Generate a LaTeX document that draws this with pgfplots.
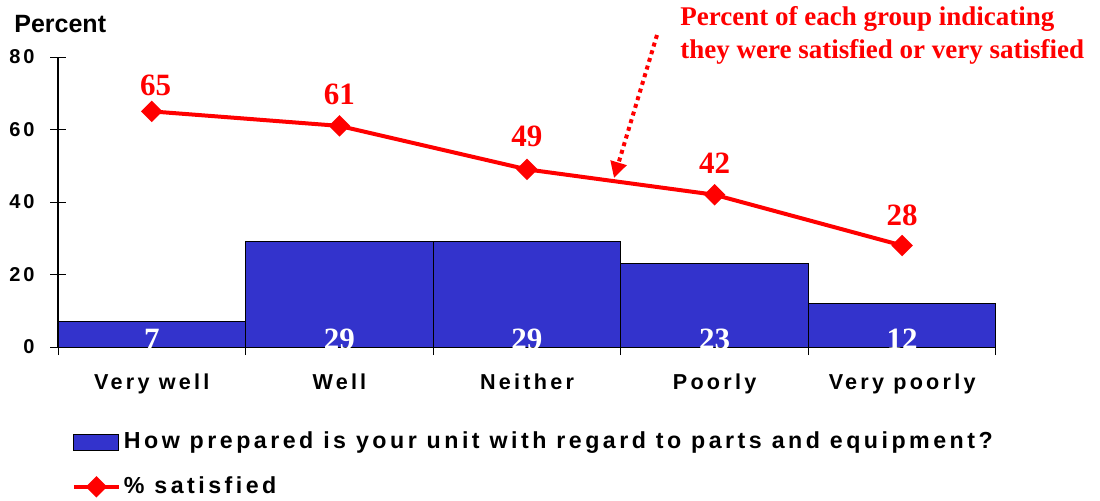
\documentclass[border=0pt]{standalone}
\usepackage{pgfplots}
\pgfplotsset{compat=1.18}
\usetikzlibrary{arrows.meta}
\usepackage{fontspec}
\setmainfont{Liberation Serif}
\newfontfamily\spsans[LetterSpace=15]{Liberation Sans}
\newfontfamily\plainsans{Liberation Sans}
\definecolor{barblue}{RGB}{51,51,204}
\definecolor{lred}{RGB}{255,0,0}
\begin{document}
\begin{tikzpicture}
\useasboundingbox (0,0) rectangle (550pt,-250pt);
\begin{axis}[
  at={(29pt,-173.5pt)}, anchor=south west,
  scale only axis, width=469pt, height=145pt,
  xmin=0, xmax=5, ymin=0, ymax=80,
  axis lines=left,
  axis line style={-, black, line width=0.6pt},
  tick style={black, line width=0.5pt},
  tick align=center, major tick length=8pt,
  /pgf/number format/assume math mode=true,
  ytick={0,20,40,60,80},
  yticklabel style={font=\spsans\bfseries\fontsize{10}{12}\selectfont, anchor=east, inner sep=0pt, xshift=-7.5pt},
  xtick={0,1,2,3,4,5}, xticklabels={},
  extra x ticks={0.5,1.5,2.5,3.5,4.5},
  extra x tick labels={Very well,Well,Neither,Poorly,Very poorly},
  extra x tick style={major tick length=0pt,
    xticklabel style={font=\spsans\bfseries\fontsize{10.8}{12}\selectfont, anchor=base, inner sep=0pt, yshift=-21pt}},
  clip=false,
  legend style={at={(0.008,-0.268)}, anchor=north west, draw=none, fill=none,
    font=\spsans\bfseries\fontsize{11.6}{13}\selectfont, row sep=9.5pt,
    nodes={inner sep=1.5pt}},
  legend cell align=left,
]
\addplot[ybar interval, fill=barblue, draw=black, line width=0.5pt,
  legend image code/.code={\draw[fill=barblue,draw=black,line width=0.5pt] (0pt,-4pt) rectangle (22.5pt,4pt);}]
  coordinates {(0,7) (1,29) (2,29) (3,23) (4,12) (5,12)};
\addlegendentry{How prepared is your unit with regard to parts and equipment?}
\addplot[lred, line width=2pt, mark=square*, mark size=2.8pt,
  mark options={rotate=45, solid, fill=lred},
  legend image code/.code={\draw[lred, line width=2pt, mark=square*, mark size=2.8pt, mark options={rotate=45, solid, fill=lred}, mark repeat=2, mark phase=2] plot coordinates {(0pt,0pt) (11.25pt,0pt) (22.5pt,0pt)};}]
  coordinates {(0.5,65) (1.5,61) (2.5,49) (3.5,42) (4.5,28)};
\addlegendentry{\% satisfied}
% value labels on line
\node[anchor=base, text=lred, font=\bfseries\fontsize{15.5}{17}\selectfont] at (axis cs:0.52,69.5) {65};
\node[anchor=base, text=lred, font=\bfseries\fontsize{15.5}{17}\selectfont] at (axis cs:1.5,66.8) {61};
\node[anchor=base, text=lred, font=\bfseries\fontsize{15.5}{17}\selectfont] at (axis cs:2.5,55.4) {49};
\node[anchor=base, text=lred, font=\bfseries\fontsize{15.5}{17}\selectfont] at (axis cs:3.5,48.0) {42};
\node[anchor=base, text=lred, font=\bfseries\fontsize{15.5}{17}\selectfont] at (axis cs:4.5,33.4) {28};
% bar labels
\node[anchor=base, text=white, font=\bfseries\fontsize{15.5}{17}\selectfont] at (axis cs:0.5,-0.6) {7};
\node[anchor=base, text=white, font=\bfseries\fontsize{15.5}{17}\selectfont] at (axis cs:1.5,-0.6) {29};
\node[anchor=base, text=white, font=\bfseries\fontsize{15.5}{17}\selectfont] at (axis cs:2.5,-0.6) {29};
\node[anchor=base, text=white, font=\bfseries\fontsize{15.5}{17}\selectfont] at (axis cs:3.5,-0.6) {23};
\node[anchor=base, text=white, font=\bfseries\fontsize{15.5}{17}\selectfont] at (axis cs:4.5,-0.6) {12};
\end{axis}
\node[anchor=base west, inner sep=0pt, font=\plainsans\bfseries\fontsize{12.5}{14}\selectfont] at (7pt,-16pt) {Percent};
\node[anchor=base west, inner sep=0pt, text=lred, font=\bfseries\fontsize{13.5}{16.5}\selectfont] at (340pt,-12.5pt) {Percent of each group indicating};
\node[anchor=base west, inner sep=0pt, text=lred, font=\bfseries\fontsize{13.5}{16.5}\selectfont] at (340pt,-29pt) {they were satisfied or very satisfied};
\draw[lred, line width=2pt, dash pattern=on 2pt off 2pt, -{Triangle[length=8pt,width=8pt]}] (328.5pt,-17.5pt) -- (307pt,-89pt);
\end{tikzpicture}
\end{document}
